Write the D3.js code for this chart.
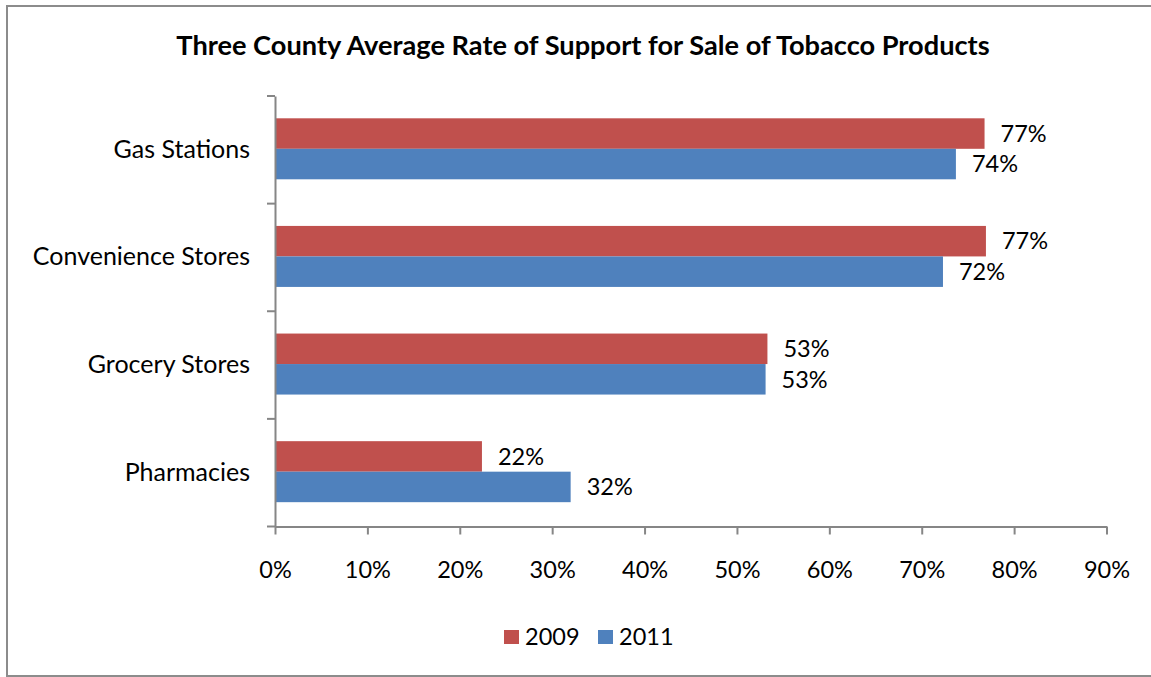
<!DOCTYPE html>
<html>
<head>
<meta charset="utf-8">
<script src="https://cdn.jsdelivr.net/npm/d3@7"></script>
<style>
  html, body { margin: 0; padding: 0; background: #fff; }
  svg { display: block; }
  text { font-family: Lato, "Open Sans", sans-serif; fill: #000; }
</style>
</head>
<body>
<svg id="chart" width="1151" height="677"></svg>
<script>
const title = "Three County Average Rate of Support for Sale of Tobacco Products";
const categories = ["Gas Stations", "Convenience Stores", "Grocery Stores", "Pharmacies"];
const seriesNames = ["2009", "2011"];
const values2009 = [0.768, 0.7695, 0.533, 0.224];
const values2011 = [0.737, 0.723, 0.531, 0.320];
const valueLabels2009 = ["77%", "77%", "53%", "22%"];
const valueLabels2011 = ["74%", "72%", "53%", "32%"];
const xTicks = [0, 0.1, 0.2, 0.3, 0.4, 0.5, 0.6, 0.7, 0.8, 0.9];
const colors = ["#C0504D", "#4F81BD"];

const svg = d3.select("#chart");

// outer frame
svg.append("rect")
  .attr("x", 7).attr("y", 6)
  .attr("width", 1160).attr("height", 670)
  .attr("fill", "none").attr("stroke", "#8c8c8c").attr("stroke-width", 2);

const plot = { left: 275, right: 1106.5, top: 96, bottom: 526.5 };

const x = d3.scaleLinear().domain([0, 0.9]).range([plot.left, plot.right]);
const y = d3.scaleBand().domain(categories).range([plot.top, plot.bottom]).paddingInner(0).paddingOuter(0);
const inner = d3.scaleBand().domain(seriesNames).range([22.3, 22.3 + 61]);

// title
svg.append("text")
  .attr("x", 583).attr("y", 55)
  .attr("text-anchor", "middle")
  .style("font-weight", "bold").style("font-size", "27.2px")
  .text(title);

const series = [
  { name: "2009", vals: values2009, labels: valueLabels2009, color: colors[0] },
  { name: "2011", vals: values2011, labels: valueLabels2011, color: colors[1] }
];

series.forEach(s => {
  const g = svg.append("g");
  g.selectAll("rect").data(categories).enter().append("rect")
    .attr("x", x(0))
    .attr("y", c => y(c) + inner(s.name))
    .attr("width", (c, i) => x(s.vals[i]) - x(0))
    .attr("height", inner.bandwidth())
    .attr("fill", s.color);
  g.selectAll("text").data(categories).enter().append("text")
    .attr("x", (c, i) => x(s.vals[i]) + 16)
    .attr("y", c => y(c) + inner(s.name) + inner.bandwidth() / 2)
    .attr("dy", "0.35em")
    .style("font-size", "23.5px")
    .text((c, i) => s.labels[i]);
});

// axes
const axisColor = "#868686";
const xAxis = svg.append("g")
  .attr("transform", `translate(0,${plot.bottom})`)
  .call(d3.axisBottom(x).tickValues(xTicks).tickFormat(d3.format(".0%")).tickSize(8).tickSizeOuter(0).tickPadding(27));
xAxis.select(".domain").attr("stroke", axisColor).attr("stroke-width", 2);
xAxis.selectAll(".tick line").attr("stroke", axisColor).attr("stroke-width", 2);
xAxis.selectAll(".tick text").style("font-size", "23.5px").style("font-family", "Lato, 'Open Sans', sans-serif").attr("fill", "#000");

const yAxis = svg.append("g")
  .attr("transform", `translate(${plot.left},0)`)
  .call(d3.axisLeft(y).tickSize(0).tickSizeOuter(0).tickPadding(25));
yAxis.select(".domain").attr("stroke", axisColor).attr("stroke-width", 2);
yAxis.selectAll(".tick text").style("font-size", "25px").style("font-family", "Lato, 'Open Sans', sans-serif").attr("fill", "#000");
// category boundary ticks
const bounds = categories.map(c => y(c)).concat([plot.bottom]);
yAxis.selectAll(".bound").data(bounds).enter().append("line")
  .attr("class", "bound")
  .attr("x1", -8).attr("x2", 0)
  .attr("y1", d => d).attr("y2", d => d)
  .attr("stroke", axisColor).attr("stroke-width", 2);

// legend
const legend = svg.append("g");
const legendX = [504, 598];
series.forEach((s, i) => {
  legend.append("rect")
    .attr("x", legendX[i]).attr("y", 630)
    .attr("width", 15).attr("height", 14)
    .attr("fill", s.color);
  legend.append("text")
    .attr("x", legendX[i] + 21).attr("y", 637)
    .attr("dy", "0.35em")
    .style("font-size", "23.5px")
    .text(s.name);
});
</script>
</body>
</html>
